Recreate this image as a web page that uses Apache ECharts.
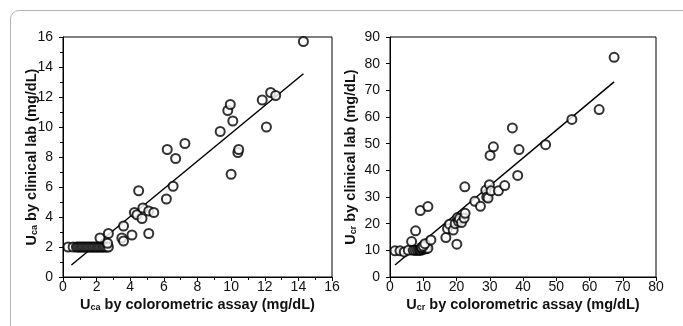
<!DOCTYPE html>
<html>
<head>
<meta charset="utf-8">
<script src="https://cdn.jsdelivr.net/npm/echarts@6/dist/echarts.min.js"></script>
<style>
  html, body { margin: 0; padding: 0; background: #fff; overflow: hidden; }
  #frame { position: absolute; left: 10px; top: 10px; width: 720px; height: 360px;
           border: 1px solid #b4b4b4; border-radius: 9px; }
  #chart { position: absolute; left: 0; top: 0; width: 683px; height: 326px; }
</style>
</head>
<body>
<div id="frame"></div>
<div id="chart"></div>
<script>
// Left panel: urinary calcium (mg/dL)
const caAssay = [0.3, 0.6, 0.8, 0.9, 1.0, 1.1, 1.2, 1.3, 1.4, 1.5, 1.6, 1.7, 1.8, 1.9, 2.0, 2.1, 2.2, 2.3, 2.4, 2.5, 2.6, 2.7,
  2.2, 2.7, 2.65, 3.5, 3.6, 3.6, 4.1, 4.25, 4.4, 4.5, 4.7, 4.75, 5.1, 5.1, 5.4,
  6.15, 6.2, 6.55, 6.7, 7.25, 9.35, 9.8, 9.95, 10.0, 10.1, 10.4, 10.45, 11.85, 12.1, 12.35, 12.65, 14.3];
const caLab = [2, 2, 2, 2, 2, 2, 2, 2, 2, 2, 2, 2, 2, 2, 2, 2, 2, 2, 2, 2, 2, 2,
  2.6, 2.9, 2.25, 2.6, 2.4, 3.4, 2.8, 4.3, 4.15, 5.75, 3.9, 4.6, 2.9, 4.4, 4.3,
  5.2, 8.5, 6.05, 7.9, 8.9, 9.7, 11.1, 11.5, 6.85, 10.4, 8.3, 8.5, 11.8, 10.0, 12.3, 12.1, 15.7];
const caFitX = [0.5, 14.3];
const caFitY = [0.8, 13.55];

// Right panel: urinary creatinine (mg/dL)
const crAssay = [1.5, 3.0, 4.3, 5.5, 6.5, 7.0, 7.7, 7.6, 8.2, 8.7, 9.0, 9.3, 9.6, 9.9, 10.2, 10.6, 11.0, 11.4, 9.5, 10.0,
  9.1, 10.5, 11.4, 12.3, 16.8, 17.3, 17.9, 19.0, 19.6, 20.1, 20.3, 20.6, 20.9, 21.5, 22.3, 22.6, 22.5,
  25.5, 27.2, 28.8, 29.1, 29.5, 29.9, 30.1, 30.4, 31.1, 32.6, 34.5, 36.8, 38.4, 38.8, 46.8, 54.7, 62.9, 67.4];
const crLab = [9.8, 9.8, 9.4, 10.0, 13.3, 10.0, 17.3, 10.0, 10.0, 10.0, 10.2, 10.0, 10.5, 10.3, 10.6, 10.8, 10.6, 10.8, 11.2, 11.6,
  24.9, 12.5, 26.4, 13.9, 14.8, 18.1, 19.8, 17.6, 20.0, 12.3, 22.3, 20.9, 21.9, 20.4, 22.1, 23.9, 33.8,
  28.4, 26.5, 32.5, 30.0, 29.6, 34.6, 45.6, 32.3, 48.8, 32.3, 34.3, 55.9, 38.1, 47.8, 49.6, 59.1, 62.8, 82.4];
const crFitX = [1.5, 67.4];
const crFitY = [4.5, 73.2];

const caXTicks = [0, 16, 2];
const caYTicks = [0, 16, 2];
const crXTicks = [0, 80, 10];
const crYTicks = [0, 90, 10];

const pairs = (xs, ys) => xs.map((x, i) => [x, ys[i]]);

const FONT = '"Liberation Sans", Arial, sans-serif';
const rich = {
  b: { fontFamily: FONT, fontWeight: 'bold', fontSize: 14.5, color: '#111' },
  s: { fontFamily: FONT, fontWeight: 'bold', fontSize: 9, color: '#111', verticalAlign: 'bottom', padding: [6, 0, 0, 0] }
};

function axis(ticks, name, gap, minor, rotate, margin) {
  return {
    type: 'value',
    min: ticks[0], max: ticks[1], interval: ticks[2],
    name: name, nameLocation: 'middle', nameGap: gap,
    nameRotate: rotate, nameMoveOverlap: false,
    nameTextStyle: { rich: rich },
    axisLine: { show: true, lineStyle: { color: '#000', width: 1 } },
    axisTick: { show: true, length: 4, lineStyle: { color: '#000' } },
    minorTick: { show: minor, splitNumber: 2, length: 3, lineStyle: { color: '#000' } },
    splitLine: { show: false },
    axisLabel: { color: '#111', fontFamily: FONT, fontSize: 14, margin: margin }
  };
}

const chart = echarts.init(document.getElementById('chart'));
const scatterStyle = {
  type: 'scatter', symbol: 'emptyCircle', symbolSize: 9,
  itemStyle: { color: '#000', borderColor: '#000', borderWidth: 1.1 },
  z: 3, silent: true
};
const lineStyle = {
  type: 'line', symbol: 'none', lineStyle: { color: '#000', width: 1.5 }, z: 2, silent: true
};

chart.setOption({
  animation: false,
  grid: [
    { left: 63, top: 37, width: 269, height: 240, show: true, borderColor: '#000', borderWidth: 1, backgroundColor: 'transparent' },
    { left: 390, top: 37, width: 266, height: 240, show: true, borderColor: '#000', borderWidth: 1, backgroundColor: 'transparent' }
  ],
  xAxis: [
    Object.assign(axis(caXTicks, '{b|U}{s|ca}{b| by colorometric assay (mg/dL)}', 20, true, 0, 3), { gridIndex: 0 }),
    Object.assign(axis(crXTicks, '{b|U}{s|cr}{b| by colorometric assay (mg/dL)}', 20, false, 0, 3), { gridIndex: 1 })
  ],
  yAxis: [
    Object.assign(axis(caYTicks, '{b|U}{s|ca}{b| by clinical lab (mg/dL)}', 24, true, 90, 10), { gridIndex: 0 }),
    Object.assign(axis(crYTicks, '{b|U}{s|cr}{b| by clinical lab (mg/dL)}', 32, false, 90, 10), { gridIndex: 1 })
  ],
  series: [
    Object.assign({}, lineStyle, { xAxisIndex: 0, yAxisIndex: 0, data: pairs(caFitX, caFitY) }),
    Object.assign({}, scatterStyle, { xAxisIndex: 0, yAxisIndex: 0, data: pairs(caAssay, caLab) }),
    Object.assign({}, lineStyle, { xAxisIndex: 1, yAxisIndex: 1, data: pairs(crFitX, crFitY) }),
    Object.assign({}, scatterStyle, { xAxisIndex: 1, yAxisIndex: 1, data: pairs(crAssay, crLab) })
  ]
});
</script>
</body>
</html>
